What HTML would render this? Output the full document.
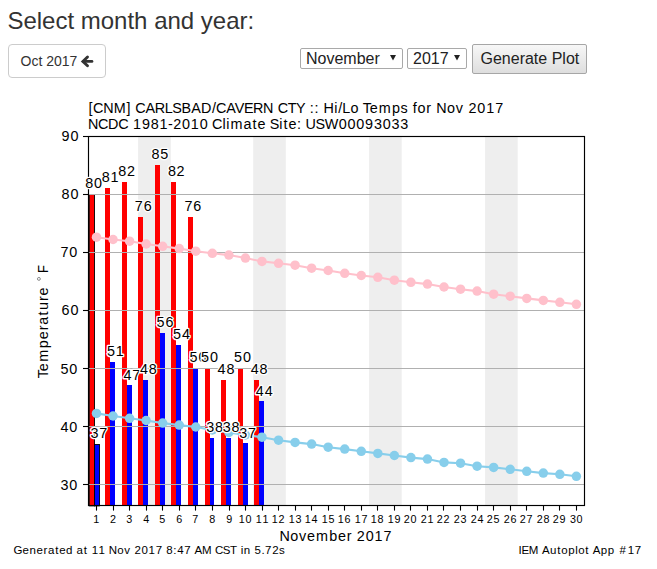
<!DOCTYPE html>
<html><head><meta charset="utf-8"><style>
html,body{margin:0;padding:0;background:#fff;width:657px;height:569px;overflow:hidden;position:relative;font-family:"Liberation Sans",sans-serif;color:#333}
.h3{position:absolute;left:7.4px;top:8.2px;font-size:24px;line-height:26px;margin:0;font-weight:normal;color:#333;white-space:nowrap}
.btn{position:absolute;left:8px;top:44px;width:96px;height:32px;border:1px solid #ccc;border-radius:4px;background:#fff;}
.btn span{position:absolute;left:11.5px;top:8px;font-size:14px;line-height:16px;color:#333;white-space:nowrap}
.sel{position:absolute;top:48px;height:19px;border:1px solid #a9a9a9;border-radius:2px;background:#fff;}
.sel span{position:absolute;left:5px;top:1px;font-size:16px;line-height:18px;color:#222;white-space:nowrap}
.gp{position:absolute;left:472px;top:44px;width:113px;height:28px;border:1px solid #a6a6a6;border-radius:2px;background:linear-gradient(#f7f7f7,#dedede);}
.gp span{position:absolute;left:7.5px;top:4.8px;font-size:16px;line-height:18px;color:#222;white-space:nowrap}
</style></head><body>
<div class="h3">Select month and year:</div>
<div class="btn"><span>Oct 2017</span></div>
<div class="sel" style="left:300px;width:101px"><span>November</span></div>
<div class="sel" style="left:407px;width:58px"><span>2017</span></div>
<div class="gp"><span>Generate Plot</span></div>
<svg width="657" height="100" style="position:absolute;left:0;top:0"><path d="M87.5 57 L82.9 61.4 L87.5 65.8" fill="none" stroke="#333" stroke-width="2.9" stroke-linecap="round" stroke-linejoin="miter"/><path d="M83.5 61.4 H92" stroke="#333" stroke-width="2.7" stroke-linecap="round"/>
<path d="M390 55 H396 L393 60.5Z" fill="#222"/><path d="M454 55 H460 L457 60.5Z" fill="#222"/></svg>
<svg width="657" height="569" viewBox="0 0 657 569" style="position:absolute;left:0;top:0">
<rect x="138.1" y="136.5" width="32.70" height="369.0" fill="#eeeeee"/>
<rect x="253.2" y="136.5" width="32.60" height="369.0" fill="#eeeeee"/>
<rect x="369.1" y="136.5" width="32.60" height="369.0" fill="#eeeeee"/>
<rect x="485.1" y="136.5" width="32.60" height="369.0" fill="#eeeeee"/>
<rect x="89.25" y="194.5" width="5.2" height="311.40" fill="#ff0000" stroke="#000" stroke-width="0.9"/>
<rect x="94.45" y="444.5" width="5.0" height="61.40" fill="#0000ff" stroke="#000" stroke-width="0.9"/>
<rect x="105" y="188" width="5" height="317.40" fill="#ff0000"/>
<rect x="110" y="362" width="5" height="143.40" fill="#0000ff"/>
<rect x="122" y="182" width="5" height="323.40" fill="#ff0000"/>
<rect x="127" y="385" width="5" height="120.40" fill="#0000ff"/>
<rect x="138" y="217" width="5" height="288.40" fill="#ff0000"/>
<rect x="143" y="380" width="5" height="125.40" fill="#0000ff"/>
<rect x="155" y="165" width="5" height="340.40" fill="#ff0000"/>
<rect x="160" y="333" width="5" height="172.40" fill="#0000ff"/>
<rect x="171" y="182" width="5" height="323.40" fill="#ff0000"/>
<rect x="176" y="345" width="5" height="160.40" fill="#0000ff"/>
<rect x="188" y="217" width="5" height="288.40" fill="#ff0000"/>
<rect x="193" y="368" width="5" height="137.40" fill="#0000ff"/>
<rect x="205" y="368" width="5" height="137.40" fill="#ff0000"/>
<rect x="210" y="438" width="4" height="67.40" fill="#0000ff"/>
<rect x="221" y="380" width="5" height="125.40" fill="#ff0000"/>
<rect x="226" y="438" width="5" height="67.40" fill="#0000ff"/>
<rect x="238" y="368" width="5" height="137.40" fill="#ff0000"/>
<rect x="243" y="443" width="5" height="62.40" fill="#0000ff"/>
<rect x="254" y="380" width="5" height="125.40" fill="#ff0000"/>
<rect x="259" y="401" width="5" height="104.40" fill="#0000ff"/>
<line x1="88.5" x2="584.5" y1="484.5" y2="484.5" stroke="#b0b0b0" stroke-width="1.1"/>
<line x1="88.5" x2="584.5" y1="426.5" y2="426.5" stroke="#b0b0b0" stroke-width="1.1"/>
<line x1="88.5" x2="584.5" y1="368.5" y2="368.5" stroke="#b0b0b0" stroke-width="1.1"/>
<line x1="88.5" x2="584.5" y1="310.5" y2="310.5" stroke="#b0b0b0" stroke-width="1.1"/>
<line x1="88.5" x2="584.5" y1="252.5" y2="252.5" stroke="#b0b0b0" stroke-width="1.1"/>
<line x1="88.5" x2="584.5" y1="194.5" y2="194.5" stroke="#b0b0b0" stroke-width="1.1"/>
<polyline points="96.50,237.20 113.05,239.50 129.60,241.20 146.14,244.00 162.69,246.30 179.24,248.60 195.79,251.20 212.34,253.30 228.88,255.10 245.43,258.10 261.98,261.40 278.53,263.30 295.08,265.20 311.62,268.20 328.17,270.50 344.72,273.30 361.27,275.50 377.82,277.30 394.36,280.20 410.91,282.30 427.46,284.10 444.01,287.00 460.56,289.20 477.10,291.10 493.65,294.20 510.20,296.20 526.75,298.40 543.30,300.40 559.84,302.30 576.39,304.30" fill="none" stroke="#ffc0cb" stroke-width="2.08" stroke-linejoin="round"/>
<circle cx="96.50" cy="237.20" r="4.75" fill="#ffc0cb"/>
<circle cx="113.05" cy="239.50" r="4.75" fill="#ffc0cb"/>
<circle cx="129.60" cy="241.20" r="4.75" fill="#ffc0cb"/>
<circle cx="146.14" cy="244.00" r="4.75" fill="#ffc0cb"/>
<circle cx="162.69" cy="246.30" r="4.75" fill="#ffc0cb"/>
<circle cx="179.24" cy="248.60" r="4.75" fill="#ffc0cb"/>
<circle cx="195.79" cy="251.20" r="4.75" fill="#ffc0cb"/>
<circle cx="212.34" cy="253.30" r="4.75" fill="#ffc0cb"/>
<circle cx="228.88" cy="255.10" r="4.75" fill="#ffc0cb"/>
<circle cx="245.43" cy="258.10" r="4.75" fill="#ffc0cb"/>
<circle cx="261.98" cy="261.40" r="4.75" fill="#ffc0cb"/>
<circle cx="278.53" cy="263.30" r="4.75" fill="#ffc0cb"/>
<circle cx="295.08" cy="265.20" r="4.75" fill="#ffc0cb"/>
<circle cx="311.62" cy="268.20" r="4.75" fill="#ffc0cb"/>
<circle cx="328.17" cy="270.50" r="4.75" fill="#ffc0cb"/>
<circle cx="344.72" cy="273.30" r="4.75" fill="#ffc0cb"/>
<circle cx="361.27" cy="275.50" r="4.75" fill="#ffc0cb"/>
<circle cx="377.82" cy="277.30" r="4.75" fill="#ffc0cb"/>
<circle cx="394.36" cy="280.20" r="4.75" fill="#ffc0cb"/>
<circle cx="410.91" cy="282.30" r="4.75" fill="#ffc0cb"/>
<circle cx="427.46" cy="284.10" r="4.75" fill="#ffc0cb"/>
<circle cx="444.01" cy="287.00" r="4.75" fill="#ffc0cb"/>
<circle cx="460.56" cy="289.20" r="4.75" fill="#ffc0cb"/>
<circle cx="477.10" cy="291.10" r="4.75" fill="#ffc0cb"/>
<circle cx="493.65" cy="294.20" r="4.75" fill="#ffc0cb"/>
<circle cx="510.20" cy="296.20" r="4.75" fill="#ffc0cb"/>
<circle cx="526.75" cy="298.40" r="4.75" fill="#ffc0cb"/>
<circle cx="543.30" cy="300.40" r="4.75" fill="#ffc0cb"/>
<circle cx="559.84" cy="302.30" r="4.75" fill="#ffc0cb"/>
<circle cx="576.39" cy="304.30" r="4.75" fill="#ffc0cb"/>
<polyline points="96.50,413.40 113.05,416.00 129.60,418.30 146.14,420.50 162.69,423.10 179.24,425.10 195.79,427.00 212.34,430.00 228.88,432.50 245.43,435.00 261.98,437.20 278.53,440.20 295.08,442.40 311.62,444.10 328.17,447.20 344.72,449.10 361.27,451.30 377.82,453.40 394.36,455.50 410.91,457.60 427.46,459.10 444.01,462.40 460.56,463.20 477.10,466.20 493.65,467.40 510.20,469.30 526.75,471.30 543.30,473.10 559.84,474.30 576.39,476.30" fill="none" stroke="#87ceeb" stroke-width="2.08" stroke-linejoin="round"/>
<circle cx="96.50" cy="413.40" r="4.75" fill="#87ceeb"/>
<circle cx="113.05" cy="416.00" r="4.75" fill="#87ceeb"/>
<circle cx="129.60" cy="418.30" r="4.75" fill="#87ceeb"/>
<circle cx="146.14" cy="420.50" r="4.75" fill="#87ceeb"/>
<circle cx="162.69" cy="423.10" r="4.75" fill="#87ceeb"/>
<circle cx="179.24" cy="425.10" r="4.75" fill="#87ceeb"/>
<circle cx="195.79" cy="427.00" r="4.75" fill="#87ceeb"/>
<circle cx="212.34" cy="430.00" r="4.75" fill="#87ceeb"/>
<circle cx="228.88" cy="432.50" r="4.75" fill="#87ceeb"/>
<circle cx="245.43" cy="435.00" r="4.75" fill="#87ceeb"/>
<circle cx="261.98" cy="437.20" r="4.75" fill="#87ceeb"/>
<circle cx="278.53" cy="440.20" r="4.75" fill="#87ceeb"/>
<circle cx="295.08" cy="442.40" r="4.75" fill="#87ceeb"/>
<circle cx="311.62" cy="444.10" r="4.75" fill="#87ceeb"/>
<circle cx="328.17" cy="447.20" r="4.75" fill="#87ceeb"/>
<circle cx="344.72" cy="449.10" r="4.75" fill="#87ceeb"/>
<circle cx="361.27" cy="451.30" r="4.75" fill="#87ceeb"/>
<circle cx="377.82" cy="453.40" r="4.75" fill="#87ceeb"/>
<circle cx="394.36" cy="455.50" r="4.75" fill="#87ceeb"/>
<circle cx="410.91" cy="457.60" r="4.75" fill="#87ceeb"/>
<circle cx="427.46" cy="459.10" r="4.75" fill="#87ceeb"/>
<circle cx="444.01" cy="462.40" r="4.75" fill="#87ceeb"/>
<circle cx="460.56" cy="463.20" r="4.75" fill="#87ceeb"/>
<circle cx="477.10" cy="466.20" r="4.75" fill="#87ceeb"/>
<circle cx="493.65" cy="467.40" r="4.75" fill="#87ceeb"/>
<circle cx="510.20" cy="469.30" r="4.75" fill="#87ceeb"/>
<circle cx="526.75" cy="471.30" r="4.75" fill="#87ceeb"/>
<circle cx="543.30" cy="473.10" r="4.75" fill="#87ceeb"/>
<circle cx="559.84" cy="474.30" r="4.75" fill="#87ceeb"/>
<circle cx="576.39" cy="476.30" r="4.75" fill="#87ceeb"/>
<rect x="88.5" y="136.5" width="496.0" height="369.0" fill="none" stroke="#000" stroke-width="1.15"/>
<line x1="83" x2="88.5" y1="484.5" y2="484.5" stroke="#000" stroke-width="1.1"/>
<line x1="83" x2="88.5" y1="426.5" y2="426.5" stroke="#000" stroke-width="1.1"/>
<line x1="83" x2="88.5" y1="368.5" y2="368.5" stroke="#000" stroke-width="1.1"/>
<line x1="83" x2="88.5" y1="310.5" y2="310.5" stroke="#000" stroke-width="1.1"/>
<line x1="83" x2="88.5" y1="252.5" y2="252.5" stroke="#000" stroke-width="1.1"/>
<line x1="83" x2="88.5" y1="194.5" y2="194.5" stroke="#000" stroke-width="1.1"/>
<line x1="83" x2="88.5" y1="136.5" y2="136.5" stroke="#000" stroke-width="1.1"/>
<line x1="96.5" x2="96.5" y1="505.5" y2="510.6" stroke="#000" stroke-width="1.1"/>
<line x1="113.5" x2="113.5" y1="505.5" y2="510.6" stroke="#000" stroke-width="1.1"/>
<line x1="129.5" x2="129.5" y1="505.5" y2="510.6" stroke="#000" stroke-width="1.1"/>
<line x1="146.5" x2="146.5" y1="505.5" y2="510.6" stroke="#000" stroke-width="1.1"/>
<line x1="162.5" x2="162.5" y1="505.5" y2="510.6" stroke="#000" stroke-width="1.1"/>
<line x1="179.5" x2="179.5" y1="505.5" y2="510.6" stroke="#000" stroke-width="1.1"/>
<line x1="195.5" x2="195.5" y1="505.5" y2="510.6" stroke="#000" stroke-width="1.1"/>
<line x1="212.5" x2="212.5" y1="505.5" y2="510.6" stroke="#000" stroke-width="1.1"/>
<line x1="229.5" x2="229.5" y1="505.5" y2="510.6" stroke="#000" stroke-width="1.1"/>
<line x1="245.5" x2="245.5" y1="505.5" y2="510.6" stroke="#000" stroke-width="1.1"/>
<line x1="262.5" x2="262.5" y1="505.5" y2="510.6" stroke="#000" stroke-width="1.1"/>
<line x1="278.5" x2="278.5" y1="505.5" y2="510.6" stroke="#000" stroke-width="1.1"/>
<line x1="295.5" x2="295.5" y1="505.5" y2="510.6" stroke="#000" stroke-width="1.1"/>
<line x1="311.5" x2="311.5" y1="505.5" y2="510.6" stroke="#000" stroke-width="1.1"/>
<line x1="328.5" x2="328.5" y1="505.5" y2="510.6" stroke="#000" stroke-width="1.1"/>
<line x1="344.5" x2="344.5" y1="505.5" y2="510.6" stroke="#000" stroke-width="1.1"/>
<line x1="361.5" x2="361.5" y1="505.5" y2="510.6" stroke="#000" stroke-width="1.1"/>
<line x1="377.5" x2="377.5" y1="505.5" y2="510.6" stroke="#000" stroke-width="1.1"/>
<line x1="394.5" x2="394.5" y1="505.5" y2="510.6" stroke="#000" stroke-width="1.1"/>
<line x1="410.5" x2="410.5" y1="505.5" y2="510.6" stroke="#000" stroke-width="1.1"/>
<line x1="427.5" x2="427.5" y1="505.5" y2="510.6" stroke="#000" stroke-width="1.1"/>
<line x1="443.5" x2="443.5" y1="505.5" y2="510.6" stroke="#000" stroke-width="1.1"/>
<line x1="460.5" x2="460.5" y1="505.5" y2="510.6" stroke="#000" stroke-width="1.1"/>
<line x1="477.5" x2="477.5" y1="505.5" y2="510.6" stroke="#000" stroke-width="1.1"/>
<line x1="493.5" x2="493.5" y1="505.5" y2="510.6" stroke="#000" stroke-width="1.1"/>
<line x1="510.5" x2="510.5" y1="505.5" y2="510.6" stroke="#000" stroke-width="1.1"/>
<line x1="526.5" x2="526.5" y1="505.5" y2="510.6" stroke="#000" stroke-width="1.1"/>
<line x1="543.5" x2="543.5" y1="505.5" y2="510.6" stroke="#000" stroke-width="1.1"/>
<line x1="559.5" x2="559.5" y1="505.5" y2="510.6" stroke="#000" stroke-width="1.1"/>
<line x1="576.5" x2="576.5" y1="505.5" y2="510.6" stroke="#000" stroke-width="1.1"/>
<g font-family="Liberation Sans, sans-serif" fill="#000">
<text x="61.52 70.40" y="140.70" font-size="14.38">90</text>
<text x="61.57 70.40" y="198.70" font-size="14.38">80</text>
<text x="60.44 69.30" y="256.70" font-size="14.38">70</text>
<text x="61.57 70.40" y="314.70" font-size="14.38">60</text>
<text x="60.41 69.30" y="373.70" font-size="14.38">50</text>
<text x="60.46 69.30" y="431.70" font-size="14.38">40</text>
<text x="60.49 69.30" y="489.80" font-size="14.38">30</text>
<text x="93.15" y="522.80" font-size="10.78">1</text>
<text x="110.06" y="522.80" font-size="10.78">2</text>
<text x="126.21" y="522.80" font-size="10.78">3</text>
<text x="143.20" y="522.80" font-size="10.78">4</text>
<text x="159.16" y="522.80" font-size="10.78">5</text>
<text x="176.20" y="522.80" font-size="10.78">6</text>
<text x="192.18" y="522.80" font-size="10.78">7</text>
<text x="209.20" y="522.80" font-size="10.78">8</text>
<text x="226.17" y="522.80" font-size="10.78">9</text>
<text x="238.83 245.51" y="522.80" font-size="10.78">10</text>
<text x="255.83 262.46" y="522.80" font-size="10.78">11</text>
<text x="271.83 278.38" y="522.80" font-size="10.78">12</text>
<text x="288.83 295.53" y="522.80" font-size="10.78">13</text>
<text x="304.83 311.51" y="522.80" font-size="10.78">14</text>
<text x="321.83 328.47" y="522.80" font-size="10.78">15</text>
<text x="337.83 344.51" y="522.80" font-size="10.78">16</text>
<text x="354.83 361.49" y="522.80" font-size="10.78">17</text>
<text x="370.83 377.51" y="522.80" font-size="10.78">18</text>
<text x="387.83 394.48" y="522.80" font-size="10.78">19</text>
<text x="403.75 410.51" y="522.80" font-size="10.78">20</text>
<text x="420.75 427.46" y="522.80" font-size="10.78">21</text>
<text x="436.75 443.38" y="522.80" font-size="10.78">22</text>
<text x="453.75 460.53" y="522.80" font-size="10.78">23</text>
<text x="470.75 477.51" y="522.80" font-size="10.78">24</text>
<text x="486.75 493.47" y="522.80" font-size="10.78">25</text>
<text x="503.75 510.51" y="522.80" font-size="10.78">26</text>
<text x="519.75 526.49" y="522.80" font-size="10.78">27</text>
<text x="536.75 543.51" y="522.80" font-size="10.78">28</text>
<text x="552.75 559.48" y="522.80" font-size="10.78">29</text>
<text x="569.90 576.51" y="522.80" font-size="10.78">30</text>
<text x="88.61 93.02 103.17 113.67 126.50 131.46 135.37 145.47 154.75 164.74 172.30 181.57 191.18 200.99 211.99 216.02 226.21 234.83 244.06 252.97 263.10 273.81 277.71 287.71 296.00 305.22 309.81 314.54 319.14 323.42 334.28 338.19 342.32 350.40 359.08 362.65 369.66 378.80 392.10 400.62 408.13 412.83 417.57 426.37 431.89 436.14 446.89 455.74 463.74 468.42 477.35 486.28 495.21" y="112.60" font-size="14.38" >[CNM] CARLSBAD/CAVERN CTY :: Hi/Lo Temps for Nov 2017</text>
<text x="87.94 97.95 108.10 118.26 128.47 133.07 141.88 150.68 159.48 167.97 173.27 182.07 190.87 199.67 208.27 212.11 222.44 226.29 230.57 243.53 252.47 257.45 265.90 269.70 279.20 283.43 288.41 296.98 301.51 305.59 315.44 324.69 338.70 347.50 356.31 365.11 373.91 382.71 391.51 400.31" y="128.90" font-size="14.38" >NCDC 1981-2010 Climate Site: USW00093033</text>
<text x="279.53 290.20 298.99 307.00 316.07 329.27 337.98 346.74 352.22 356.86 365.72 374.58 383.45" y="540.80" font-size="14.38" >November 2017</text>
<g transform="translate(47.8,377.8) rotate(-90)">
<text x="-0.51 6.64 15.97 29.54 38.49 47.49 53.17 62.43 67.71 76.69 82.23" y="0.00" font-size="14.38" >Temperature</text>
<circle cx="98.90" cy="-8.9" r="1.45" fill="none" stroke="#666" stroke-width="0.75"/>
<text x="104.80" y="0.00" font-size="14.38" text-anchor="start" textLength="7.99" lengthAdjust="spacingAndGlyphs" >F</text>
</g>
<text x="13.60 22.62 29.57 36.52 43.52 47.94 55.14 59.14 66.10 73.01 76.58 83.78 87.74 91.87 98.53 105.44 108.82 117.34 124.37 130.71 134.42 141.50 148.59 155.67 162.59 166.30 173.32 177.13 184.22 191.45 194.47 202.12 211.89 214.99 222.73 230.09 237.08 240.71 243.86 250.77 254.47 261.39 265.10 272.18 278.95" y="554.00" font-size="11.50" >Generated at 11 Nov 2017 8:47 AM CST in 5.72s</text>
<text x="518.55 521.47 528.83 538.92 541.93 549.90 557.22 561.20 568.14 575.14 578.17 585.36 589.63 592.65 600.63 607.69 614.60 619.43 627.63 634.71" y="554.10" font-size="11.50" >IEM Autoplot App #17</text>
<text x="85.23 94.07" y="188.07" font-size="14.38" stroke="#fff" stroke-width="2.6" paint-order="stroke" stroke-linejoin="round">80</text>
<text x="90.40 99.19" y="437.77" font-size="14.38" stroke="#fff" stroke-width="2.6" paint-order="stroke" stroke-linejoin="round">37</text>
<text x="101.78 110.54" y="182.26" font-size="14.38" stroke="#fff" stroke-width="2.6" paint-order="stroke" stroke-linejoin="round">81</text>
<text x="106.88 115.69" y="356.47" font-size="14.38" stroke="#fff" stroke-width="2.6" paint-order="stroke" stroke-linejoin="round">51</text>
<text x="118.33 126.98" y="176.46" font-size="14.38" stroke="#fff" stroke-width="2.6" paint-order="stroke" stroke-linejoin="round">82</text>
<text x="123.48 132.29" y="379.70" font-size="14.38" stroke="#fff" stroke-width="2.6" paint-order="stroke" stroke-linejoin="round">47</text>
<text x="134.85 143.71" y="211.30" font-size="14.38" stroke="#fff" stroke-width="2.6" paint-order="stroke" stroke-linejoin="round">76</text>
<text x="140.02 148.86" y="373.89" font-size="14.38" stroke="#fff" stroke-width="2.6" paint-order="stroke" stroke-linejoin="round">48</text>
<text x="151.42 160.21" y="159.03" font-size="14.38" stroke="#fff" stroke-width="2.6" paint-order="stroke" stroke-linejoin="round">85</text>
<text x="156.52 165.41" y="327.44" font-size="14.38" stroke="#fff" stroke-width="2.6" paint-order="stroke" stroke-linejoin="round">56</text>
<text x="167.97 176.62" y="176.46" font-size="14.38" stroke="#fff" stroke-width="2.6" paint-order="stroke" stroke-linejoin="round">82</text>
<text x="173.07 181.96" y="339.05" font-size="14.38" stroke="#fff" stroke-width="2.6" paint-order="stroke" stroke-linejoin="round">54</text>
<text x="184.49 193.36" y="211.30" font-size="14.38" stroke="#fff" stroke-width="2.6" paint-order="stroke" stroke-linejoin="round">76</text>
<text x="189.62 198.51" y="362.28" font-size="14.38" stroke="#fff" stroke-width="2.6" paint-order="stroke" stroke-linejoin="round">50</text>
<text x="201.01 209.90" y="362.28" font-size="14.38" stroke="#fff" stroke-width="2.6" paint-order="stroke" stroke-linejoin="round">50</text>
<text x="206.24 215.05" y="431.96" font-size="14.38" stroke="#fff" stroke-width="2.6" paint-order="stroke" stroke-linejoin="round">38</text>
<text x="217.61 226.45" y="373.89" font-size="14.38" stroke="#fff" stroke-width="2.6" paint-order="stroke" stroke-linejoin="round">48</text>
<text x="222.78 231.60" y="431.96" font-size="14.38" stroke="#fff" stroke-width="2.6" paint-order="stroke" stroke-linejoin="round">38</text>
<text x="234.11 243.00" y="362.28" font-size="14.38" stroke="#fff" stroke-width="2.6" paint-order="stroke" stroke-linejoin="round">50</text>
<text x="239.33 248.12" y="437.77" font-size="14.38" stroke="#fff" stroke-width="2.6" paint-order="stroke" stroke-linejoin="round">37</text>
<text x="250.71 259.55" y="373.89" font-size="14.38" stroke="#fff" stroke-width="2.6" paint-order="stroke" stroke-linejoin="round">48</text>
<text x="255.86 264.70" y="395.67" font-size="14.38" stroke="#fff" stroke-width="2.6" paint-order="stroke" stroke-linejoin="round">44</text>
</g>
</svg>
</body></html>
